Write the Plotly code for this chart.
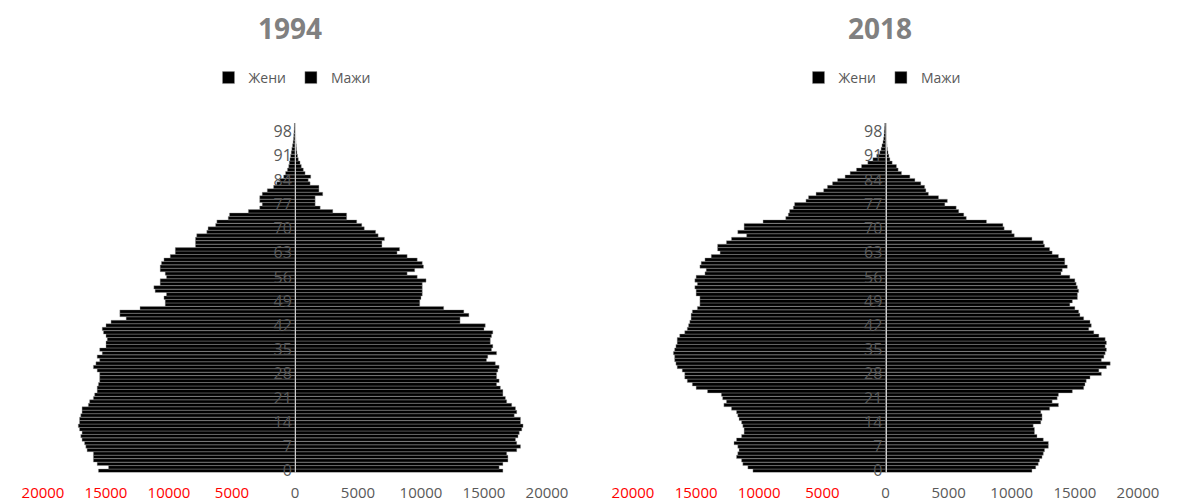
import plotly.graph_objects as go

ages = list(range(0, 101))

women_1994 = [15.6,14.8,15.7,16.0,16.0,16.0,16.5,16.6,16.7,16.9,
              17.0,16.9,17.1,17.2,17.1,17.1,17.0,16.9,16.9,16.4,
              16.3,16.0,15.9,15.7,15.7,15.6,15.5,15.5,15.5,15.7,
              16.0,15.8,15.5,15.7,15.3,15.5,15.0,15.0,14.9,15.0,
              15.2,15.3,15.0,14.6,13.4,13.9,13.9,12.3,10.3,10.3,
              10.4,10.2,11.1,11.2,10.7,10.7,10.2,10.3,10.7,10.7,
              10.6,10.4,9.9,9.5,9.5,7.9,7.9,7.9,7.8,7.0,
              6.9,6.3,6.2,5.3,5.2,3.7,2.8,2.6,2.8,2.8,
              2.6,2.2,1.7,1.45,1.2,0.9,0.75,0.6,0.5,0.45,
              0.4,0.35,0.3,0.25,0.2,0.15,0.12,0.1,0.08,0.06,0.05]

men_1994 = [16.5,16.2,16.5,16.9,16.9,16.8,17.6,17.9,17.6,17.5,
            17.7,17.8,18.0,18.1,17.9,17.9,17.4,17.6,17.5,17.2,
            16.8,16.7,16.5,16.5,16.3,16.0,16.2,16.0,16.0,16.1,
            16.2,15.9,15.2,15.3,16.0,15.6,15.7,15.5,15.5,15.6,
            15.7,15.0,15.1,13.1,13.1,13.8,13.4,11.8,9.9,9.9,
            10.0,10.1,10.1,10.1,10.1,10.4,9.7,8.9,9.5,10.2,
            10.1,9.7,8.9,8.1,8.3,6.9,6.9,7.1,6.6,6.4,
            5.5,5.3,4.9,4.1,4.1,3.0,2.0,1.6,1.6,1.6,
            2.2,1.9,1.9,1.2,1.05,1.25,0.8,0.66,0.5,0.4,
            0.26,0.2,0.15,0.12,0.1,0.08,0.06,0.05,0.04,0.03,0.03]

women_2018 = [10.5,10.9,11.3,11.4,11.8,11.7,11.6,11.7,12.0,11.8,
              11.4,11.2,11.2,11.3,11.4,11.6,11.7,11.8,12.2,12.8,
              12.6,12.9,13.0,14.1,15.0,15.3,15.7,15.9,15.9,16.1,
              16.5,16.6,16.7,16.7,16.8,16.7,16.6,16.5,16.5,16.3,
              15.9,15.7,15.6,15.5,15.4,15.4,15.3,14.9,14.7,14.7,
              14.7,15.0,15.0,15.1,14.9,15.1,15.0,14.3,14.2,14.7,
              14.6,14.3,13.8,13.1,13.3,13.3,12.6,12.2,11.0,11.7,
              11.2,11.2,9.7,7.9,7.7,7.6,7.3,7.2,6.3,6.1,
              5.5,4.9,4.6,4.2,3.8,3.2,2.8,2.3,1.9,1.4,
              1.0,0.7,0.45,0.35,0.28,0.2,0.15,0.12,0.1,0.08,0.06]

men_2018 = [11.6,11.9,12.1,12.2,12.4,12.5,12.6,12.9,12.9,12.5,
            12.0,11.8,11.8,11.7,12.3,12.4,12.4,12.3,13.0,13.7,
            13.2,13.6,13.7,14.8,15.7,15.8,15.9,16.2,17.1,16.9,
            17.5,17.8,17.1,17.3,17.4,17.5,17.4,17.5,17.4,16.9,
            16.5,16.1,16.3,16.2,15.7,15.4,15.3,15.0,14.6,14.8,
            15.2,15.2,15.3,15.2,15.1,15.0,14.6,13.9,14.0,14.4,
            14.2,14.2,13.7,13.2,13.0,12.6,12.5,11.6,10.2,10.0,
            9.4,9.3,8.0,6.4,6.2,5.8,5.6,4.7,4.9,4.2,
            3.4,3.2,3.1,2.8,2.33,1.93,1.27,1.0,0.87,0.53,
            0.35,0.27,0.2,0.15,0.12,0.1,0.08,0.06,0.05,0.04,0.03]

years = ["1994", "2018"]
legend_names = ["Жени", "Мажи"]
x_tick_values = [-20000, -15000, -10000, -5000, 0, 5000, 10000, 15000, 20000]
x_tick_labels = ["20000", "15000", "10000", "5000", "0", "5000", "10000", "15000", "20000"]
y_tick_values = list(range(0, 99, 7))

W, H = 1178, 504
FONT = "Open Sans"
GRAY = "#595959"

domains = [[43 / W, 547 / W], [633 / W, 1138 / W]]
ydom = [31.5 / H, 1 - 123 / H]

fig = go.Figure()

datasets = [(women_1994, men_1994), (women_2018, men_2018)]
for i, (w, m) in enumerate(datasets):
    xa = "x" if i == 0 else "x2"
    ya = "y" if i == 0 else "y2"
    lg = "legend" if i == 0 else "legend2"
    fig.add_trace(go.Bar(
        y=ages, x=[-v * 1000 for v in w], orientation="h", name=legend_names[0],
        xaxis=xa, yaxis=ya, legend=lg,
        marker=dict(color="black", line=dict(color="#9a9a9a", width=0.4)),
        customdata=[v * 1000 for v in w],
        hovertemplate="%{y}: %{customdata:.0f}<extra>Жени</extra>"))
    fig.add_trace(go.Bar(
        y=ages, x=[v * 1000 for v in m], orientation="h", name=legend_names[1],
        xaxis=xa, yaxis=ya, legend=lg,
        marker=dict(color="black", line=dict(color="#9a9a9a", width=0.4)),
        hovertemplate="%{y}: %{x:.0f}<extra>Мажи</extra>"))

ticktext = [f"<span style='color:#ff0000'>{t}</span>" if v < 0 else t
            for v, t in zip(x_tick_values, x_tick_labels)]

for i in range(2):
    sfx = "" if i == 0 else "2"
    fig.layout["xaxis" + sfx] = dict(
        domain=domains[i], range=[-20000, 20000], anchor="y" + sfx,
        tickvals=x_tick_values, ticktext=ticktext, showgrid=False, zeroline=False,
        showline=False, ticks="outside", ticklen=6, tickcolor="rgba(0,0,0,0)",
        tickfont=dict(family=FONT, size=15, color=GRAY), automargin=False)
    center = (domains[i][0] + domains[i][1]) / 2
    fig.layout["yaxis" + sfx] = dict(
        domain=ydom, range=[-0.5, 100.5], anchor="free", position=center,
        tickvals=y_tick_values, showgrid=False, zeroline=False,
        showline=True, linecolor="#cfcfcf", linewidth=1,
        ticks="", tickfont=dict(family=FONT, size=16, color=GRAY), automargin=False)

legend_common = dict(orientation="h", xanchor="center", yanchor="middle",
                     y=1 - 78 / H, font=dict(family=FONT, size=14, color=GRAY),
                     bgcolor="rgba(0,0,0,0)", itemwidth=30, tracegroupgap=0)
fig.update_layout(
    legend=dict(x=292 / W, **legend_common),
    legend2=dict(x=882 / W, **legend_common),
)

for i, yr in enumerate(years):
    cx = [290 / W, 880 / W][i]
    fig.add_annotation(text=f"<b>{yr}</b>", x=cx, y=1 - 28 / H, xref="paper", yref="paper",
                       xanchor="center", yanchor="middle", showarrow=False,
                       font=dict(family=FONT, size=28, color="#808080"))

fig.update_layout(
    width=W, height=H, barmode="relative", bargap=0.02,
    margin=dict(l=0, r=0, t=0, b=0),
    paper_bgcolor="white", plot_bgcolor="white",
    showlegend=True,
)

fig.write_html("out.html", config={"displayModeBar": False},
               post_script="document.body.style.margin='0px';document.body.style.overflow='hidden';")
